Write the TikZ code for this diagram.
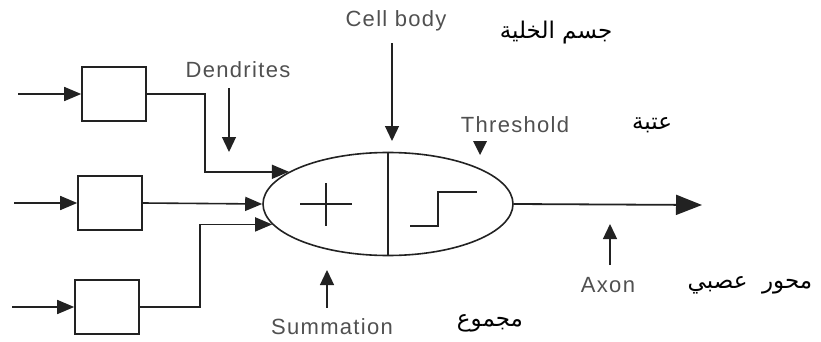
\documentclass[tikz,border=0pt]{standalone}
\usepackage{fontspec}
\setmainfont{Liberation Sans}
\newfontfamily\labelfont[LetterSpace=6]{Liberation Sans}
\newfontfamily\arabicfont[Script=Arabic]{DejaVu Sans}
\TeXXeTstate=1
\usepackage{xcolor}
\usetikzlibrary{arrows.meta,shapes.geometric}
\definecolor{ink}{HTML}{222222}
\definecolor{labelgray}{HTML}{505050}

\begin{document}
\begin{tikzpicture}[
    x=1pt, y=-1pt,
    unitbox/.style={draw=ink, line width=1.6pt, minimum width=64pt, minimum height=54pt, inner sep=0pt},
    body/.style={ellipse, draw=ink, line width=1.6pt, minimum width=250pt, minimum height=103pt, inner sep=0pt},
    wire/.style={draw=ink, line width=1.6pt, -{Triangle[length=17pt, width=14pt]}},
    pointer/.style={draw=ink, line width=1.3pt, -{Triangle[length=15pt, width=14pt]}},
    en/.style={text=labelgray, font=\fontsize{22}{25}\labelfont, inner sep=0pt},
    ar/.style={font=\fontsize{23}{26}\selectfont\arabicfont, inner sep=0pt}
]
\useasboundingbox (0,0) rectangle (821,342);

% input units
\node[unitbox] (unit1) at (114,94) {};
\node[unitbox] (unit2) at (110,203) {};
\node[unitbox] (unit3) at (107,307) {};
\coordinate (in1) at (18,94);
\coordinate (in2) at (14,203);
\coordinate (in3) at (12,307);
\draw[wire] (in1) -- (unit1.west);
\draw[wire] (in2) -- (unit2.west);
\draw[wire] (in3) -- (unit3.west);

% cell body
\node[body] (soma) at (388,204) {};
\draw[draw=ink, line width=1.6pt] (soma.north) -- (soma.south);
\begin{scope}[shift={(soma.center)}, draw=ink, line width=1.3pt]
  \draw (-88,0) -- (-36,0) (-62,-21) -- (-62,22);
  \draw (22,22) -- ++(28,0) -- ++(0,-34) -- ++(39,0);
\end{scope}

\draw[wire] (unit1.east) -- ++(58,0) |- (soma.162);
\draw[wire] (unit2.east) -- (soma.west);
\draw[wire] (unit3.east) -- ++(60,0) |- (soma.190);

% axon
\coordinate (axonend) at (702,205);
\draw[draw=ink, line width=1.8pt, -{Triangle[length=26pt, width=20pt]}] (soma.east) -- (axonend);

% labels
\node[en] (celllbl) at (396,21) {Cell body};
\node[en] (dendlbl) at (238,70) {Dendrites};
\node[en] (threshlbl) at (515,125) {Threshold};
\node[en] (sumlbl) at (332,327) {Summation};
\node[en] (axonlbl) at (608,285) {Axon};

\coordinate (celltip) at (392,141);
\coordinate (dendtip) at (229,152);
\coordinate (sumtip) at (327,270);
\coordinate (axontip) at (610,224);
\draw[pointer] (celltip |- celllbl.south) ++(0,12) -- (celltip);
\draw[pointer] (dendtip |- dendlbl.south) ++(0,10) -- (dendtip);
\draw[pointer] (sumtip |- sumlbl.north) ++(0,-11) -- (sumtip);
\draw[pointer] (axontip |- axonlbl.north) ++(0,-12) -- (axontip);
\fill[ink] (473,141) -- (487,141) -- (480,155) -- cycle;

% arabic captions
\node[ar] (cellar) at (556,33) {\beginR جسم الخلية\endR};
\node[ar] (threshar) at (652,125) {\beginR عتبة\endR};
\node[ar] (axonar) at (750,285) {\beginR محور\ \ عصبي\endR};
\node[ar] (sumar) at (490,323) {\beginR مجموع\endR};
\end{tikzpicture}
\end{document}
